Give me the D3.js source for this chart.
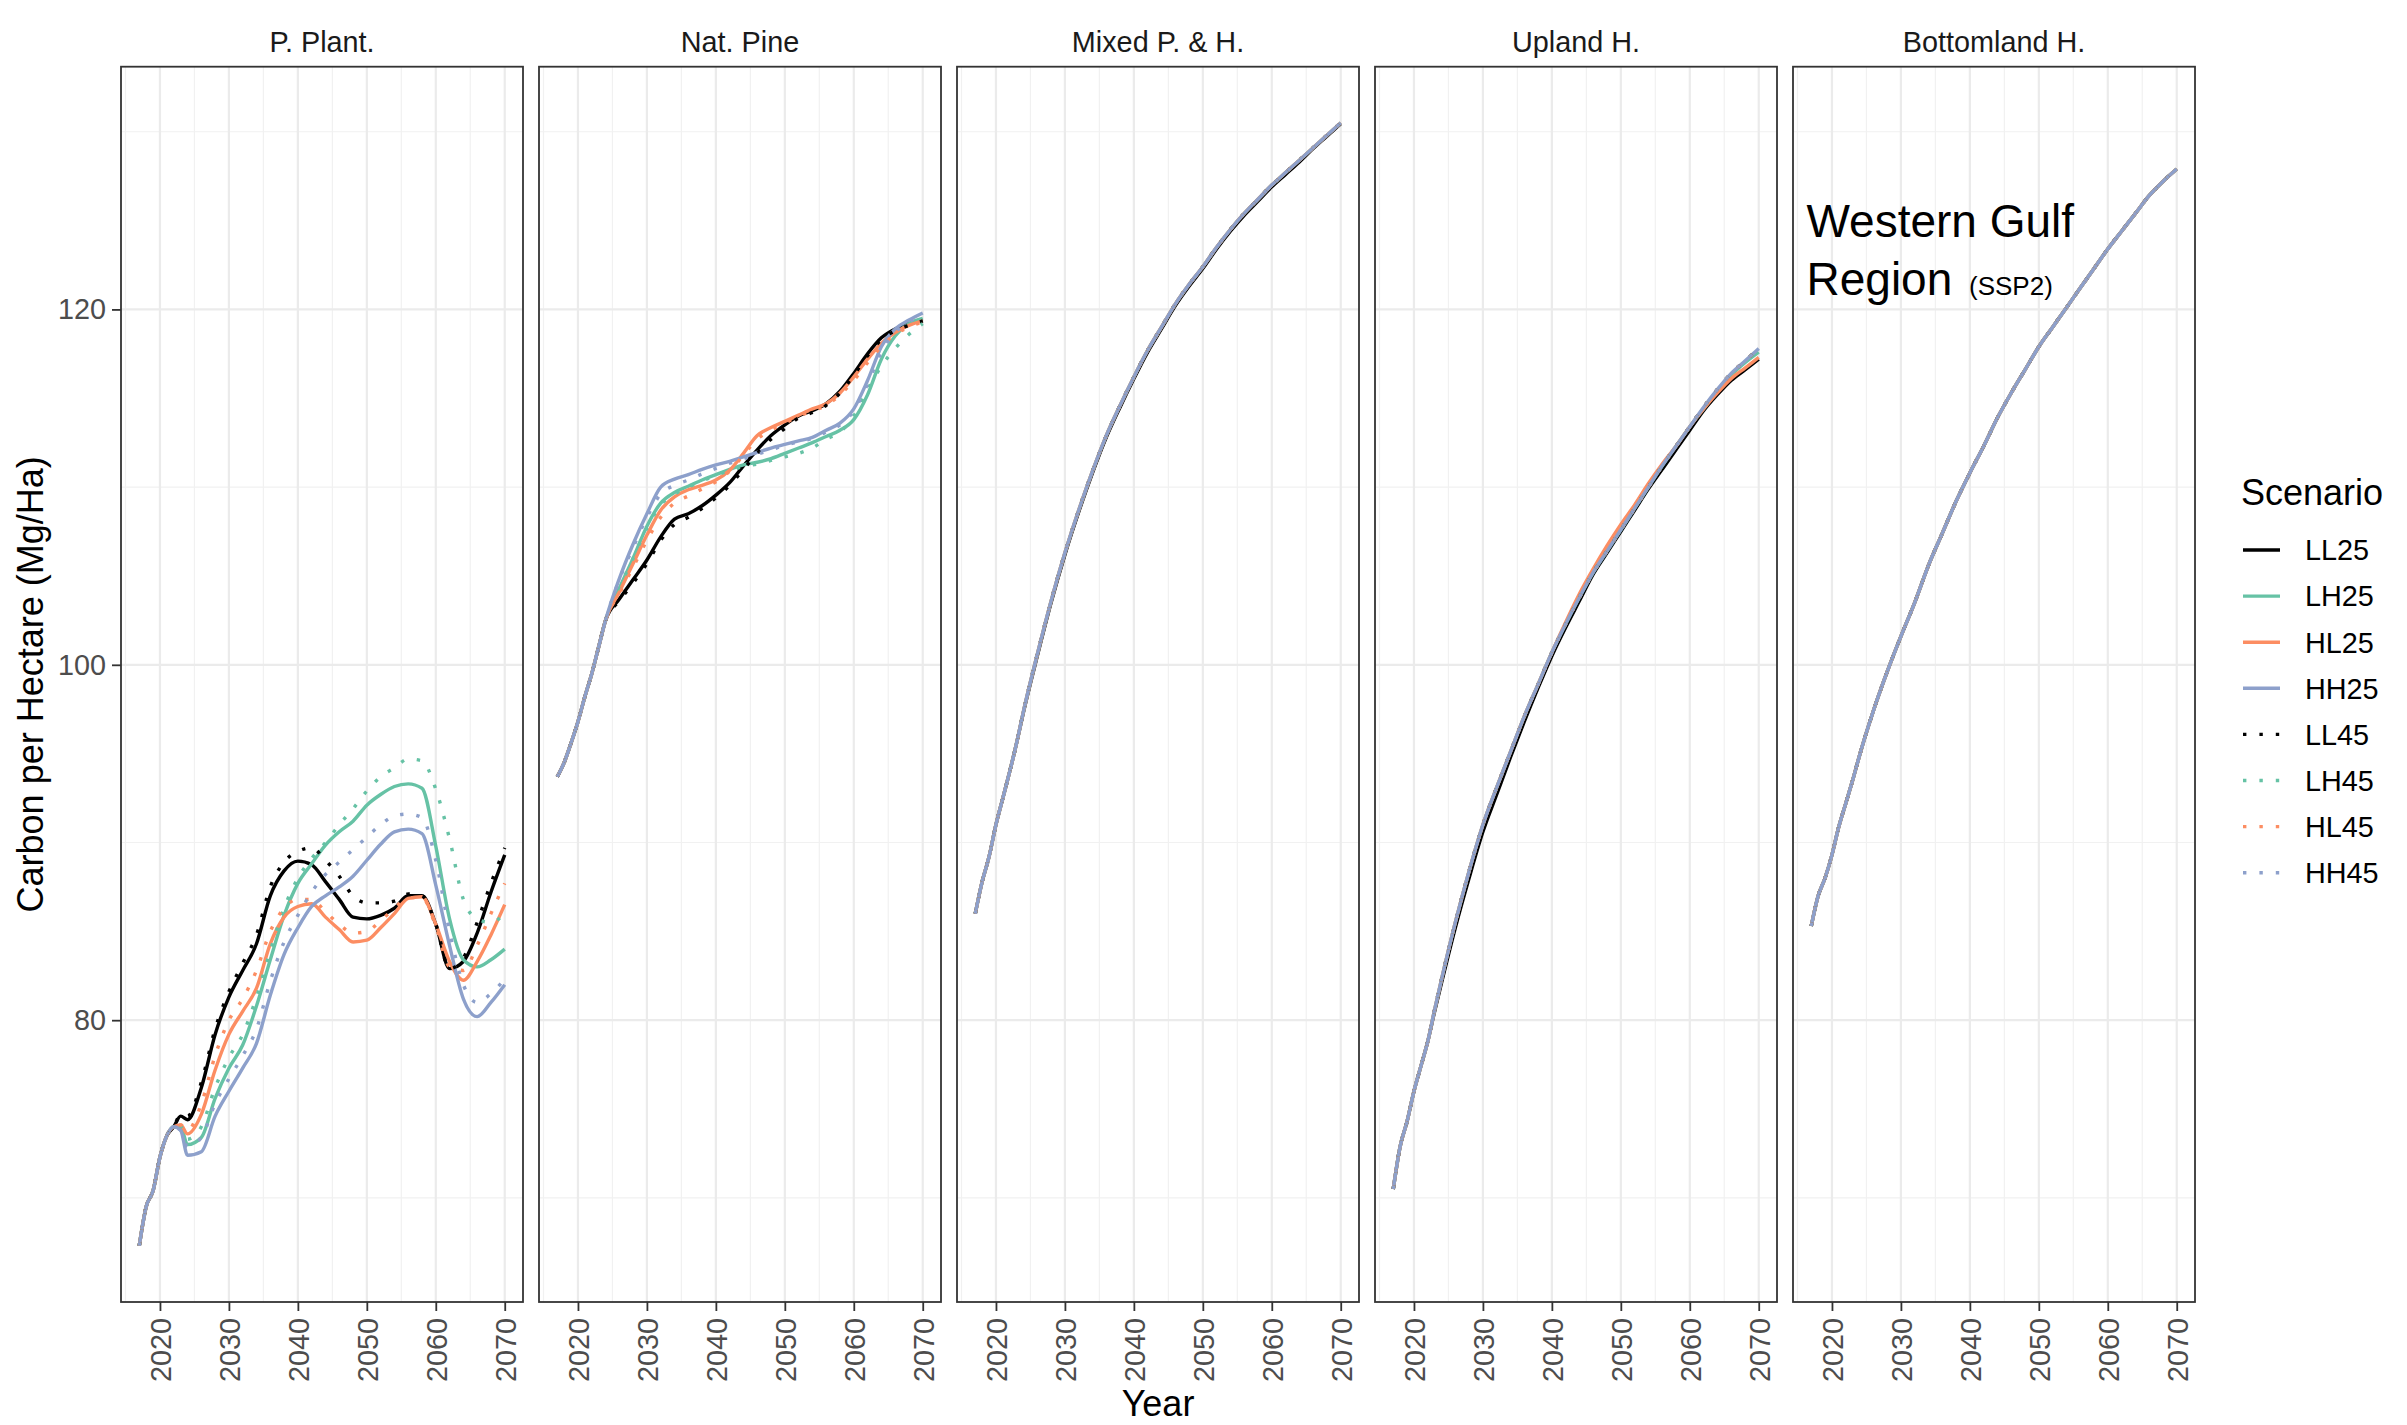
<!DOCTYPE html>
<html>
<head>
<meta charset="utf-8">
<script src="https://cdn.jsdelivr.net/npm/d3@7"></script>
<style>
  body { margin: 0; background: #ffffff; }
  svg { font-family: "Liberation Sans", Arial, Helvetica, sans-serif; }
</style>
</head>
<body>
<svg id="chart" width="2407" height="1425"></svg>
<script>
// ---- data ----
var years = [2017, 2018, 2019, 2020, 2021, 2022, 2023, 2024, 2026, 2028, 2030, 2032, 2034, 2036, 2038, 2040,
             2042, 2044, 2046, 2048, 2050, 2052, 2054, 2056, 2058, 2060, 2062, 2064, 2066, 2068, 2070];
var panels = ["P. Plant.", "Nat. Pine", "Mixed P. & H.", "Upland H.", "Bottomland H."];
var scenarios = ["LL25", "LH25", "HL25", "HH25", "LL45", "LH45", "HL45", "HH45"];
var xTicks = [2020, 2030, 2040, 2050, 2060, 2070];
var yTicks = [80, 100, 120];

/** P. Plant. */
var pplantLL25 = [67.3, 69.5, 70.4, 72.3, 73.5, 74.0, 74.6, 74.4, 76.2, 79.2, 81.3, 82.8, 84.3, 87.0, 88.4, 88.95, 88.75, 87.8, 86.8, 85.8, 85.7, 85.9, 86.3, 87.0, 87.0, 85.4, 82.9, 83.3, 84.9, 87.2, 89.3];
var pplantLH25 = [67.3, 69.5, 70.4, 72.3, 73.5, 74.0, 74.0, 73.0, 73.4, 75.6, 77.3, 78.6, 80.8, 83.4, 85.9, 87.7, 88.8, 89.85, 90.6, 91.2, 92.1, 92.7, 93.15, 93.3, 93.05, 89.8, 85.7, 83.4, 83.0, 83.4, 84.0];
var pplantHL25 = [67.3, 69.5, 70.4, 72.3, 73.5, 74.0, 74.1, 73.6, 74.7, 77.2, 79.2, 80.5, 81.8, 84.3, 85.8, 86.4, 86.55, 85.8, 85.1, 84.4, 84.5, 85.2, 86.0, 86.85, 86.95, 85.4, 83.3, 82.25, 83.3, 84.8, 86.5];
var pplantHH25 = [67.3, 69.5, 70.4, 72.3, 73.5, 74.0, 73.8, 72.4, 72.6, 74.6, 76.0, 77.3, 78.7, 81.4, 83.7, 85.2, 86.4, 87.0, 87.5, 88.1, 89.0, 89.9, 90.6, 90.75, 90.5, 87.6, 84.2, 81.2, 80.2, 81.0, 82.0];
var pplantLL45 = [67.3, 69.5, 70.4, 72.3, 73.5, 74.0, 74.7, 74.6, 76.5, 79.5, 81.6, 83.2, 84.8, 87.5, 88.9, 89.5, 89.7, 89.0, 88.1, 87.0, 86.6, 86.6, 86.7, 87.1, 87.0, 85.4, 82.9, 83.5, 85.5, 87.7, 89.7];
var pplantLH45 = [67.3, 69.5, 70.4, 72.3, 73.5, 74.0, 74.0, 73.3, 74.0, 76.2, 77.9, 79.2, 81.3, 83.9, 86.3, 88.0, 89.1, 90.0, 91.0, 91.9, 92.9, 93.7, 94.2, 94.7, 94.6, 93.0, 90.2, 86.8, 85.7, 85.5, 86.0];
var pplantHL45 = [67.3, 69.5, 70.4, 72.3, 73.5, 74.0, 74.1, 73.8, 75.3, 78.0, 80.0, 81.2, 82.8, 85.0, 86.3, 86.8, 86.8, 86.1, 85.4, 84.9, 85.0, 85.6, 86.3, 86.9, 86.9, 85.3, 83.0, 82.8, 84.2, 86.0, 87.7];
var pplantHH45 = [67.3, 69.5, 70.4, 72.3, 73.5, 74.0, 73.8, 72.9, 73.4, 75.3, 76.7, 78.0, 79.5, 82.2, 84.4, 85.9, 87.2, 88.2, 88.9, 89.6, 90.3, 91.0, 91.5, 91.6, 91.4, 89.0, 85.0, 82.0, 81.0, 81.5, 82.3];

/** Nat. Pine */
var npineLL25 = [93.7, 94.5, 95.6, 96.8, 98.2, 99.5, 101.0, 102.5, 103.7, 104.8, 105.9, 107.2, 108.2, 108.5, 108.95, 109.55, 110.25, 111.2, 112.1, 112.9, 113.5, 114.0, 114.3, 114.7, 115.4, 116.4, 117.5, 118.4, 118.9, 119.2, 119.4];
var npineLH25 = [93.7, 94.5, 95.6, 96.8, 98.2, 99.5, 101.0, 102.5, 104.3, 106.0, 107.8, 109.1, 109.7, 110.05, 110.4, 110.7, 111.0, 111.25, 111.4, 111.6, 111.9, 112.2, 112.5, 112.85, 113.2, 113.8, 115.2, 117.2, 118.5, 119.2, 119.5];
var npineHL25 = [93.7, 94.5, 95.6, 96.8, 98.2, 99.5, 101.0, 102.5, 104.1, 105.7, 107.3, 108.7, 109.45, 109.85, 110.1, 110.4, 110.95, 111.9, 112.9, 113.35, 113.7, 114.05, 114.4, 114.7, 115.3, 116.2, 117.2, 118.1, 118.7, 119.1, 119.35];
var npineHH25 = [93.7, 94.5, 95.6, 96.8, 98.2, 99.5, 101.0, 102.5, 104.85, 106.8, 108.5, 110.0, 110.45, 110.7, 111.0, 111.25, 111.45, 111.7, 111.95, 112.2, 112.4, 112.6, 112.8, 113.2, 113.6, 114.4, 116.0, 117.9, 118.9, 119.4, 119.8];
var npineLL45 = [93.7, 94.5, 95.6, 96.8, 98.2, 99.5, 101.0, 102.5, 103.6, 104.6, 105.7, 107.0, 107.9, 108.3, 108.8, 109.4, 110.1, 111.0, 111.9, 112.7, 113.3, 113.9, 114.2, 114.6, 115.3, 116.3, 117.4, 118.3, 118.8, 119.1, 119.35];
var npineLH45 = [93.7, 94.5, 95.6, 96.8, 98.2, 99.5, 101.0, 102.5, 104.3, 106.0, 107.7, 109.0, 109.6, 110.0, 110.35, 110.65, 110.95, 111.15, 111.3, 111.5, 111.7, 111.9, 112.2, 112.7, 113.1, 114.0, 115.5, 116.8, 117.8, 118.6, 119.2];
var npineHL45 = [93.7, 94.5, 95.6, 96.8, 98.2, 99.5, 101.0, 102.5, 104.0, 105.5, 107.0, 108.3, 109.1, 109.5, 109.9, 110.3, 110.9, 111.8, 112.7, 113.2, 113.6, 114.0, 114.3, 114.6, 115.2, 116.0, 117.0, 117.9, 118.6, 119.0, 119.3];
var npineHH45 = [93.7, 94.5, 95.6, 96.8, 98.2, 99.5, 101.0, 102.5, 104.8, 106.6, 108.3, 109.6, 110.1, 110.4, 110.75, 111.05, 111.35, 111.6, 111.85, 112.1, 112.35, 112.55, 112.75, 113.1, 113.5, 114.3, 115.8, 117.6, 118.7, 119.3, 119.7];

/** Mixed P. & H. (scenarios overlap, LL25 a hair lower) */
var mixedAll  = [86.0, 87.8, 89.2, 91.0, 92.5, 94.0, 95.6, 97.4, 100.6, 103.6, 106.3, 108.7, 110.9, 112.9, 114.6, 116.2, 117.7, 119.0, 120.3, 121.4, 122.4, 123.5, 124.5, 125.4, 126.2, 127.0, 127.7, 128.4, 129.1, 129.8, 130.5];
var mixedLL25 = [86.0, 87.8, 89.2, 91.0, 92.5, 94.0, 95.6, 97.35, 100.5, 103.5, 106.2, 108.6, 110.8, 112.8, 114.5, 116.1, 117.6, 118.9, 120.2, 121.3, 122.3, 123.4, 124.4, 125.3, 126.1, 126.9, 127.6, 128.3, 129.05, 129.75, 130.45];

/** Upland H. */
var uplandAll  = [70.5, 72.9, 74.3, 76.0, 77.4, 78.8, 80.6, 82.3, 85.5, 88.4, 91.0, 93.1, 95.1, 97.1, 98.9, 100.7, 102.3, 103.8, 105.2, 106.4, 107.6, 108.8, 110.0, 111.2, 112.3, 113.4, 114.5, 115.5, 116.4, 117.1, 117.8];
var uplandLL25 = [70.5, 72.9, 74.3, 76.0, 77.4, 78.8, 80.5, 82.1, 85.2, 88.0, 90.6, 92.7, 94.8, 96.8, 98.7, 100.5, 102.1, 103.6, 105.1, 106.3, 107.5, 108.7, 109.9, 111.0, 112.1, 113.2, 114.3, 115.2, 116.0, 116.6, 117.2];
var uplandLH25 = [70.5, 72.9, 74.3, 76.0, 77.4, 78.8, 80.6, 82.3, 85.5, 88.4, 91.0, 93.1, 95.1, 97.1, 98.9, 100.7, 102.3, 103.8, 105.2, 106.4, 107.6, 108.8, 110.0, 111.2, 112.3, 113.4, 114.4, 115.4, 116.3, 117.0, 117.6];
var uplandHL25 = [70.5, 72.9, 74.3, 76.0, 77.4, 78.8, 80.6, 82.3, 85.5, 88.4, 91.0, 93.1, 95.1, 97.1, 98.9, 100.7, 102.4, 104.0, 105.4, 106.7, 107.9, 109.0, 110.2, 111.3, 112.3, 113.4, 114.4, 115.3, 116.1, 116.7, 117.3];

/** Bottomland H. (all scenarios overlap) */
var bottomAll = [85.3, 87.0, 88.0, 89.3, 90.9, 92.2, 93.5, 94.9, 97.4, 99.6, 101.6, 103.5, 105.6, 107.4, 109.2, 110.8, 112.3, 113.9, 115.3, 116.6, 117.9, 119.0, 120.1, 121.2, 122.3, 123.4, 124.4, 125.4, 126.4, 127.2, 127.9];

var seriesTable = {
    "P. Plant.":     [pplantLL25, pplantLH25, pplantHL25, pplantHH25, pplantLL45, pplantLH45, pplantHL45, pplantHH45],
    "Nat. Pine":     [npineLL25, npineLH25, npineHL25, npineHH25, npineLL45, npineLH45, npineHL45, npineHH45],
    "Mixed P. & H.": [mixedLL25, mixedAll, mixedAll, mixedAll, mixedAll, mixedAll, mixedAll, mixedAll],
    "Upland H.":     [uplandLL25, uplandLH25, uplandHL25, uplandAll, uplandAll, uplandAll, uplandAll, uplandAll],
    "Bottomland H.": [bottomAll, bottomAll, bottomAll, bottomAll, bottomAll, bottomAll, bottomAll, bottomAll]
};

// ---- layout ----
var panelLeft = 121, panelW = 402, panelGap = 16;
var panelTop = 66.7, panelBottom = 1302;
var textColor = "#4d4d4d";

var svg = d3.select("#chart");

var allValues = [];
panels.forEach(function (p) {
    seriesTable[p].forEach(function (arr) { allValues = allValues.concat(arr); });
});
var yExt = d3.extent(allValues);
var yPad = (yExt[1] - yExt[0]) * 0.05;
var fnScaleY = d3.scaleLinear()
    .domain([yExt[0] - yPad, yExt[1] + yPad])
    .range([panelBottom, panelTop]);

var xExt = d3.extent(years);
var xPad = (xExt[1] - xExt[0]) * 0.05;

var fnColor = d3.scaleOrdinal()
    .domain(scenarios)
    .range(["#000000", "#66C2A5", "#FC8D62", "#8DA0CB", "#000000", "#66C2A5", "#FC8D62", "#8DA0CB"]);
function isDotted(s) { return s.slice(2) === "45"; }

var lineW = 3.4, dotPattern = "3.4 13";

var fnScaleX = d3.scaleLinear()
    .domain([xExt[0] - xPad, xExt[1] + xPad])
    .range([0, panelW]);

var xMinor = d3.range(2015, xExt[1] + xPad, 10);
var yMinor = d3.range(70, yExt[1] + yPad, 20);

panels.forEach(function (pname, i) {
    var g = svg.append("g")
        .attr("transform", "translate(" + (panelLeft + i * (panelW + panelGap)) + ",0)");

    // grid
    g.selectAll(".vminor").data(xMinor).enter().append("line")
        .attr("x1", fnScaleX).attr("x2", fnScaleX)
        .attr("y1", panelTop).attr("y2", panelBottom)
        .attr("stroke", "#f1f1f1").attr("stroke-width", 1.2);
    g.selectAll(".hminor").data(yMinor).enter().append("line")
        .attr("x1", 0).attr("x2", panelW)
        .attr("y1", fnScaleY).attr("y2", fnScaleY)
        .attr("stroke", "#f1f1f1").attr("stroke-width", 1.2);
    g.selectAll(".vmajor").data(xTicks).enter().append("line")
        .attr("x1", fnScaleX).attr("x2", fnScaleX)
        .attr("y1", panelTop).attr("y2", panelBottom)
        .attr("stroke", "#ebebeb").attr("stroke-width", 2.2);
    g.selectAll(".hmajor").data(yTicks).enter().append("line")
        .attr("x1", 0).attr("x2", panelW)
        .attr("y1", fnScaleY).attr("y2", fnScaleY)
        .attr("stroke", "#ebebeb").attr("stroke-width", 2.2);

    // lines
    var fnLine = d3.line()
        .x(function (d) { return fnScaleX(d.year); })
        .y(function (d) { return fnScaleY(d.value); })
        .curve(d3.curveMonotoneX);

    scenarios.forEach(function (s, k) {
        var vals = seriesTable[pname][k];
        var pts = years.map(function (y, j) { return { year: y, value: vals[j] }; });
        g.append("path").datum(pts)
            .attr("d", fnLine)
            .attr("fill", "none")
            .attr("stroke", fnColor(s))
            .attr("stroke-width", lineW)
            .attr("stroke-linejoin", "round")
            .attr("stroke-dasharray", isDotted(s) ? dotPattern : null);
    });

    // border
    g.append("rect")
        .attr("x", 0).attr("y", panelTop)
        .attr("width", panelW).attr("height", panelBottom - panelTop)
        .attr("fill", "none").attr("stroke", "#333333").attr("stroke-width", 1.8);

    // strip title
    g.append("text")
        .attr("x", panelW / 2).attr("y", 51.7)
        .attr("text-anchor", "middle")
        .style("font-size", "28.8px").attr("fill", "#1a1a1a")
        .text(pname);

    // x axis
    var axisX = d3.axisBottom(fnScaleX).tickValues(xTicks).tickSize(9).tickPadding(7).tickFormat(d3.format("d"));
    var gx = g.append("g")
        .attr("transform", "translate(0," + panelBottom + ")")
        .call(axisX);
    gx.select(".domain").remove();
    gx.selectAll(".tick line").attr("stroke", "#333333").attr("stroke-width", 1.8);
    gx.selectAll(".tick text")
        .attr("transform", "rotate(-90)")
        .attr("text-anchor", "end")
        .attr("x", -16).attr("y", 0).attr("dy", "0.36em")
        .attr("fill", textColor)
        .style("font-size", "28.8px")
        .style("font-family", "\"Liberation Sans\", Arial, sans-serif");

    if (i === 0) {
        var axisY = d3.axisLeft(fnScaleY).tickValues(yTicks).tickSize(9).tickPadding(6);
        var gy = g.append("g").call(axisY);
        gy.select(".domain").remove();
        gy.selectAll(".tick line").attr("stroke", "#333333").attr("stroke-width", 1.8);
        gy.selectAll(".tick text")
            .attr("fill", textColor)
            .style("font-size", "28.8px")
            .style("font-family", "\"Liberation Sans\", Arial, sans-serif");
    }
});

// axis titles
svg.append("text")
    .attr("transform", "translate(42.5," + ((panelTop + panelBottom) / 2) + ") rotate(-90)")
    .attr("text-anchor", "middle")
    .style("font-size", "36px").attr("fill", "#000")
    .text("Carbon per Hectare (Mg/Ha)");

svg.append("text")
    .attr("x", (panelLeft + panelLeft + 5 * panelW + 4 * panelGap) / 2)
    .attr("y", 1416)
    .attr("text-anchor", "middle")
    .style("font-size", "36px").attr("fill", "#000")
    .text("Year");

// annotation in last panel
var note = svg.append("text")
    .attr("x", 1806.5).attr("y", 236.7)
    .style("font-size", "46px").attr("fill", "#000");
note.append("tspan").text("Western Gulf");
var note2 = svg.append("text")
    .attr("x", 1806.5).attr("y", 295)
    .style("font-size", "46px").attr("fill", "#000");
note2.append("tspan").text("Region");
note2.append("tspan").attr("x", 1969).style("font-size", "26px").text("(SSP2)");

// legend
var legend = svg.append("g");
legend.append("text")
    .attr("x", 2241).attr("y", 505)
    .style("font-size", "36px").attr("fill", "#000")
    .text("Scenario");
scenarios.forEach(function (s, k) {
    var cy = 550 + k * 46.1;
    legend.append("line")
        .attr("x1", 2243).attr("x2", 2280)
        .attr("y1", cy).attr("y2", cy)
        .attr("stroke", fnColor(s))
        .attr("stroke-width", lineW)
        .attr("stroke-dasharray", isDotted(s) ? dotPattern : null);
    legend.append("text")
        .attr("x", 2305).attr("y", cy + 10.3)
        .style("font-size", "28.8px").attr("fill", "#000")
        .text(s);
});
</script>
</body>
</html>
